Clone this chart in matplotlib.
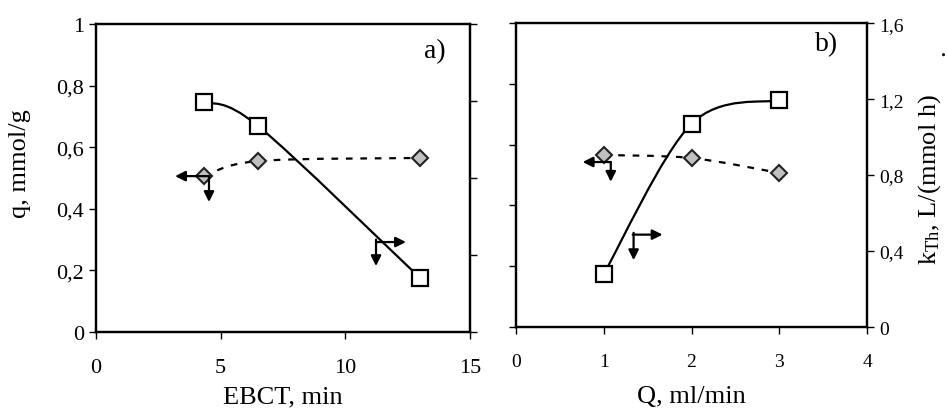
import numpy as np
import matplotlib
matplotlib.use('Agg')
import matplotlib.pyplot as plt
from matplotlib.path import Path
from matplotlib.patches import PathPatch
from matplotlib.ticker import FuncFormatter

plt.rcParams['font.family'] = ['Liberation Serif', 'DejaVu Serif']
plt.rcParams['mathtext.fontset'] = 'custom'
plt.rcParams['mathtext.rm'] = 'Liberation Serif'
plt.rcParams['mathtext.it'] = 'Liberation Serif:italic'

# panel a) - EBCT
ebct = [4.33, 6.5, 13.0]
q_ebct = [0.506, 0.555, 0.565]
kth_ebct = [1.195, 1.07, 0.28]

# panel b) - flow rate
flow = [1, 2, 3]
q_flow = [0.566, 0.556, 0.507]
kth_flow = [0.279, 1.07, 1.195]

q_ticks = [0, 0.2, 0.4, 0.6, 0.8, 1.0]
kth_ticks = [0, 0.4, 0.8, 1.2, 1.6]
ebct_ticks = [0, 5, 10, 15]
flow_ticks = [0, 1, 2, 3, 4]


def comma(v, pos=None):
    s = f'{v:g}'
    return s.replace('.', ',')


def smooth_path(x, y):
    # Excel-like smoothed line through the points (cubic Bezier)
    p = np.column_stack([x, y]).astype(float)
    n = len(p)
    verts = [p[0]]
    codes = [Path.MOVETO]
    for i in range(n - 1):
        p0 = p[max(i - 1, 0)]
        p3 = p[min(i + 2, n - 1)]
        c1 = p[i] + (p[i + 1] - p0) / 6
        c2 = p[i + 1] - (p3 - p[i]) / 6
        verts += [c1, c2, p[i + 1]]
        codes += [Path.CURVE4] * 3
    return Path(verts, codes)


def arrow(ax, corner, end):
    ax.annotate('', xy=end, xytext=corner,
                arrowprops=dict(arrowstyle='-|>', color='k', lw=1.6,
                                mutation_scale=15, shrinkA=0, shrinkB=0))


def panel(ax, x, q, k, xmax, xticks, fs):
    axr = ax.twinx()
    ax.set_xlim(0, xmax)
    ax.set_ylim(0, 1)
    axr.set_ylim(0, 1.6)
    ax.set_xticks(xticks)
    ax.set_yticks(q_ticks)
    axr.set_yticks(kth_ticks)
    ax.yaxis.set_major_formatter(FuncFormatter(comma))
    axr.yaxis.set_major_formatter(FuncFormatter(comma))
    for a in (ax, axr):
        for s in a.spines.values():
            s.set_linewidth(1.6)
        a.tick_params(direction='out', length=5, width=1.0, labelsize=fs)
    ax.tick_params(axis='x', pad=14)

    ax.add_patch(PathPatch(smooth_path(x, q), fill=False, lw=1.6,
                           ls=(0, (3, 3.5)), color='k', zorder=2))
    ax.plot(x, q, ls='none', marker='D', ms=8, mfc='#c0c0c0', mec='#222222',
            mew=1.5, zorder=3)
    axr.add_patch(PathPatch(smooth_path(x, k), fill=False, lw=1.6,
                            color='k', zorder=2))
    axr.plot(x, k, ls='none', marker='s', ms=12, mfc='white', mec='k',
             mew=1.6, zorder=3)
    return axr


fig = plt.figure(figsize=(9.48, 4.14), dpi=100)
ax1 = fig.add_axes([0.1013, 0.1957, 0.3945, 0.744])
ax2 = fig.add_axes([0.5443, 0.2077, 0.3703, 0.734])

ax1r = panel(ax1, ebct, q_ebct, kth_ebct, 15, ebct_ticks, 16)
ax1r.tick_params(labelright=False)
ax1.set_xlabel('EBCT, min', fontsize=19)
ax1.xaxis.set_label_coords(0.5, -0.175)
ax1.set_ylabel('q, mmol/g', fontsize=19)
ax1.yaxis.set_label_coords(-0.175, 0.55)
ax1.text(0.906, 0.912, 'a)', transform=ax1.transAxes, fontsize=20,
         ha='center', va='center')
arrow(ax1, (4.53, 0.506), (3.17, 0.506))
arrow(ax1, (4.53, 0.506), (4.53, 0.422))
arrow(ax1, (11.23, 0.292), (12.43, 0.292))
arrow(ax1, (11.23, 0.300), (11.23, 0.214))

ax2r = panel(ax2, flow, q_flow, kth_flow, 4, flow_ticks, 14)
ax2.tick_params(axis='y', labelleft=False)
ax2.set_xlabel('Q, ml/min', fontsize=19)
ax2.xaxis.set_label_coords(0.5, -0.19)
ax2.text(1.179, 0.49, 'k$_{\\mathrm{Th}}$, L/(mmol h)', transform=ax2.transAxes,
         fontsize=19, rotation=90, ha='center', va='center')
ax2.text(1.203, 0.905, '.', transform=ax2.transAxes, fontsize=19,
         rotation=90, ha='center', va='center')
ax2.text(0.886, 0.931, 'b)', transform=ax2.transAxes, fontsize=20,
         ha='center', va='center')
arrow(ax2, (1.08, 0.543), (0.76, 0.543))
arrow(ax2, (1.08, 0.543), (1.08, 0.478))
arrow(ax2, (1.33, 0.304), (1.67, 0.304))
arrow(ax2, (1.34, 0.310), (1.34, 0.220))

fig.savefig('out.png', dpi=100)
